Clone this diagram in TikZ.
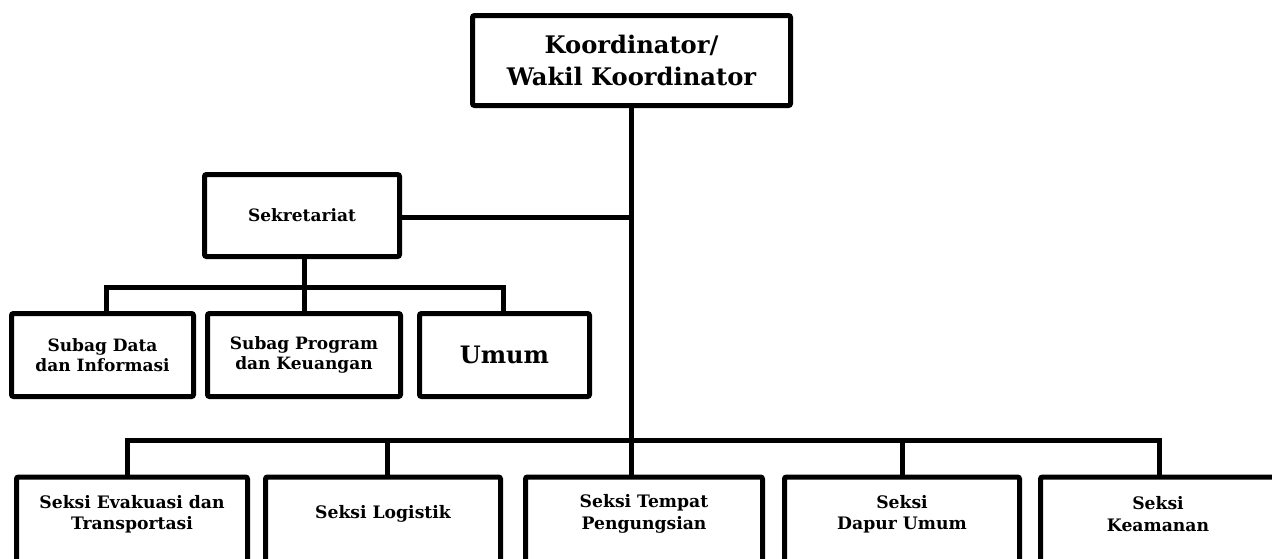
\documentclass[tikz,border=0pt]{standalone}
\usepackage{fontspec}
\setmainfont{DejaVu Serif}
\begin{document}
\begin{tikzpicture}[x=0.5pt,y=-0.5pt,
 box/.style={draw, line width=2.5pt, rounded corners=1pt, fill=white, align=center, inner sep=0pt,
   font=\bfseries\fontsize{8.5}{10}\selectfont},
 lowbox/.style={box, anchor=north, minimum height=50pt,
   label={[align=center, anchor=center, yshift=-19.75pt, font=\bfseries\fontsize{8.6}{10.75}\selectfont]north:#1}},
 conn/.style={line width=2.5pt}]
\useasboundingbox (0,0) rectangle (1272,558);
\clip (0,0) rectangle (1272,558);
% boxes
\node[box, minimum width=159pt, minimum height=45pt, font=\bfseries\fontsize{12.1}{16}\selectfont] (koord) at (631.5,60.5) {Koordinator/\\Wakil Koordinator};
\node[box, minimum width=97.5pt, minimum height=41pt] (sek) at (302,215.5) {Sekretariat};
\node[box, minimum width=91pt, minimum height=41.5pt] (sub1) at (102.5,355) {Subag Data\\dan Informasi};
\node[box, minimum width=96.5pt, minimum height=41.5pt] (sub2) at (304,355) {Subag Program\\dan Keuangan};
\node[box, minimum width=85pt, minimum height=41.5pt, font=\bfseries\fontsize{12}{14}\selectfont] (sub3) at (504.5,355) {Umum};
\node[lowbox={Seksi Evakuasi dan\\Transportasi}, minimum width=115.5pt] (b1) at (132,474.5) {};
\node[lowbox={Seksi Logistik}, minimum width=117.5pt] (b2) at (383,474.5) {};
\node[lowbox={Seksi Tempat\\Pengungsian}, minimum width=118.5pt] (b3) at (644,474.5) {};
\node[lowbox={Seksi\\Dapur Umum}, minimum width=117.5pt] (b4) at (902,474.5) {};
\node[lowbox={Seksi\\Keamanan}, minimum width=117.5pt] (b5) at (1158,474.5) {};
% bus coordinates
\coordinate (sbL) at (106,287);
\coordinate (sbM) at (304,287);
\coordinate (sbR) at (503,287);
\coordinate (sekc) at (402,217);
\coordinate (bbL) at (127,440);
\coordinate (bbR) at (1159,440);
\coordinate (b2d) at (387,440);
\coordinate (b4d) at (902,440);
% connectors
\draw[conn] (koord.south) -- (koord.south |- b3.north);
\draw[conn] (sek.east |- sekc) -- (sekc -| koord.south);
\draw[conn] (sbM |- sek.south) -- (sbM |- sub2.north);
\draw[conn] (sbL |- sub1.north) -- (sbL) -- (sbR) -- (sbR |- sub3.north);
\draw[conn] (bbL |- b1.north) -- (bbL) -- (bbR) -- (bbR |- b5.north);
\draw[conn] (b2d) -- (b2d |- b2.north);
\draw[conn] (b4d) -- (b4d |- b4.north);
\end{tikzpicture}
\end{document}
